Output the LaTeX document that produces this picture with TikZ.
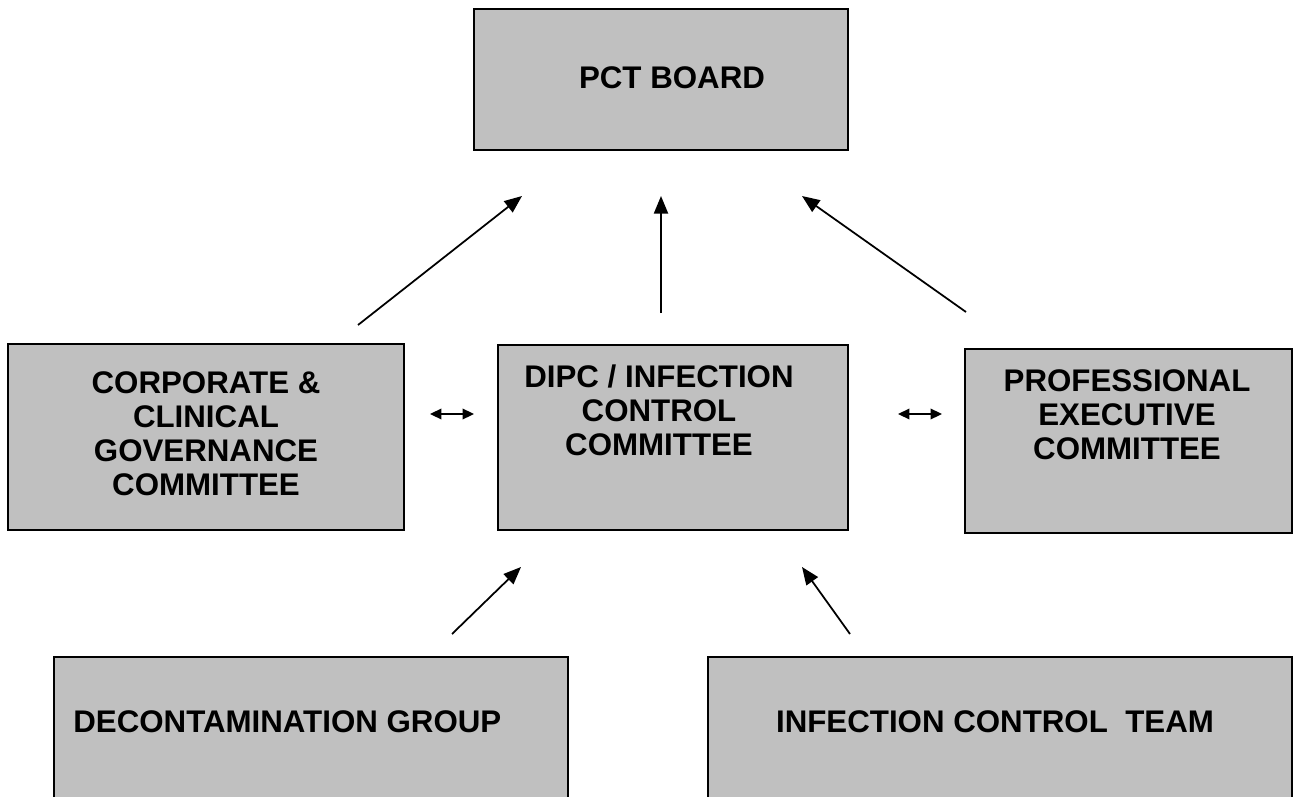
\documentclass[tikz,border=0pt]{standalone}
\usepackage{fontspec}
\setmainfont{Liberation Sans}
\usepackage{tikz}
\usetikzlibrary{arrows.meta,calc}
\definecolor{boxgray}{HTML}{C0C0C0}

\begin{document}
\begin{tikzpicture}[x=0.02cm, y=-0.02cm,
    box/.style={draw=black, line width=1pt, fill=boxgray, inner sep=0pt},
    lbl/.style={font=\fontsize{17.8}{19.3}\selectfont\bfseries, align=center, inner sep=0pt},
    up/.style={-{Triangle[length=10pt,width=8pt]}, line width=1pt},
    both/.style={{Triangle[length=6.5pt,width=6pt]}-{Triangle[length=6.5pt,width=6pt]}, line width=1pt}]
    \clip (0,0) rectangle (1294,797);
    % boxes
    \node[box, minimum width=7.48cm, minimum height=2.82cm] (pct) at (661,79.5) {};
    \node[box, minimum width=7.92cm, minimum height=3.72cm] (corp) at (206,437) {};
    \node[box, minimum width=7.00cm, minimum height=3.70cm] (dipc) at (673,437.5) {};
    \node[box, minimum width=6.54cm, minimum height=3.68cm] (prof) at (1128.5,441) {};
    \node[box, minimum width=10.28cm, minimum height=3.66cm] (decon) at (311,748.5) {};
    \node[box, minimum width=11.68cm, minimum height=3.66cm] (ict) at (1000,748.5) {};
    % texts
    \node[lbl] (pcttxt) at (672,78) {PCT BOARD};
    \node[lbl] (corptxt) at (206,434) {CORPORATE \&\\CLINICAL\\GOVERNANCE\\COMMITTEE};
    \node[lbl] (dipctxt) at (659,410) {DIPC / INFECTION\\CONTROL\\COMMITTEE};
    \node[lbl] (proftxt) at (1127,415) {PROFESSIONAL\\EXECUTIVE\\COMMITTEE};
    \node[lbl, anchor=west] (decontxt) at (73,722) {DECONTAMINATION GROUP};
    \node[lbl] (icttxt) at (995,722) {INFECTION CONTROL~~TEAM};
    % arrow ends
    \coordinate (corpup) at (358,325);
    \coordinate (corpto) at (522,196);
    \coordinate (dipcup) at (661,313);
    \coordinate (dipcto) at (661,196);
    \coordinate (profup) at (966,312);
    \coordinate (profto) at (802,196);
    \coordinate (deconup) at (452,634);
    \coordinate (deconto) at (521,567);
    \coordinate (ictup) at (850,634);
    \coordinate (ictto) at (802,567);
    \coordinate (la) at (430,414);
    \coordinate (lb) at (474,414);
    \coordinate (ra) at (898,414);
    \coordinate (rb) at (942,414);
    % arrows
    \draw[up] (corpup) -- (corpto);
    \draw[up] (dipcup) -- (dipcto);
    \draw[up] (profup) -- (profto);
    \draw[up] (deconup) -- (deconto);
    \draw[up] (ictup) -- (ictto);
    \draw[both] (la) -- (lb);
    \draw[both] (ra) -- (rb);
\end{tikzpicture}
\end{document}
